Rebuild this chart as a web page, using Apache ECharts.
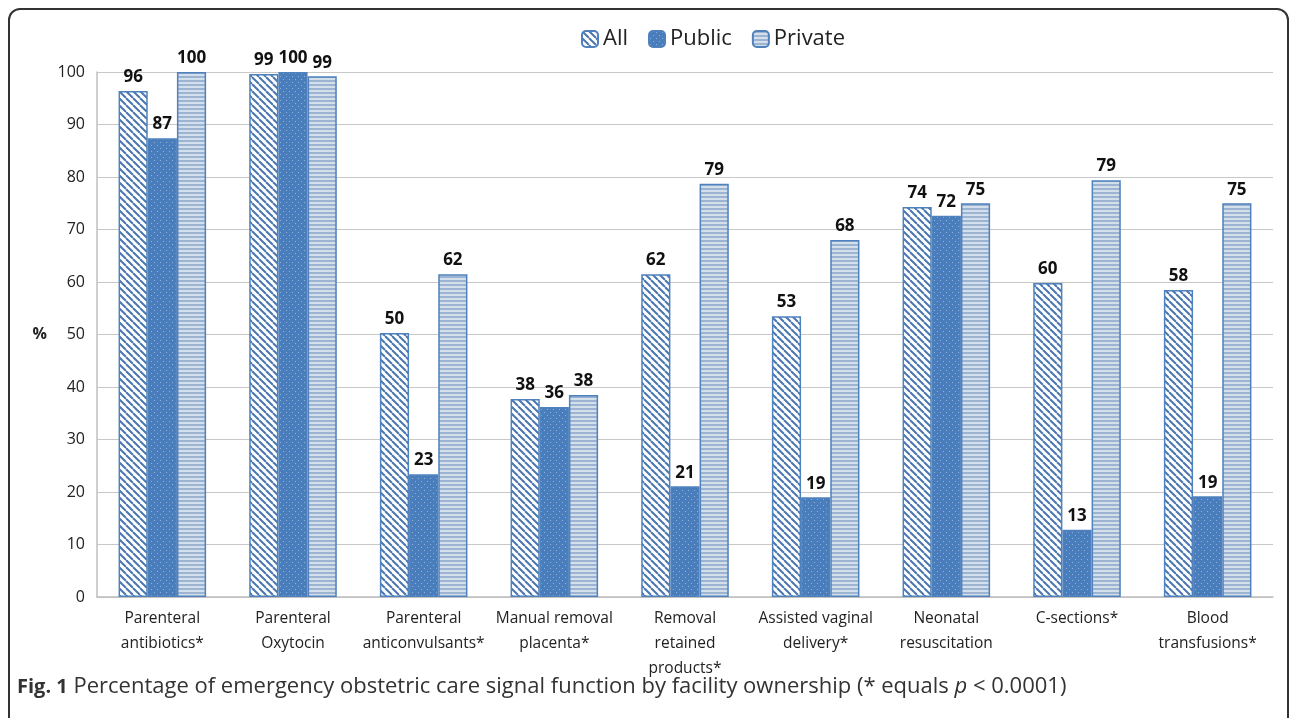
<!DOCTYPE html>
<html>
<head>
<meta charset="utf-8">
<script src="https://cdn.jsdelivr.net/npm/echarts@6/dist/echarts.min.js"></script>
<style>
    html, body { margin: 0; padding: 0; background: #fff; }
    #frame {
        position: absolute; left: 8px; top: 8px; width: 1281px; height: 760px;
        border: 2px solid #333; border-radius: 12px; box-sizing: border-box;
    }
    #chart { position: absolute; left: 0; top: 0; width: 1292px; height: 718px; }
</style>
</head>
<body>
<div id="frame"></div>
<div id="chart"></div>
<script>
// categories and values (percent)
const categories = [
    'Parenteral\nantibiotics*', 'Parenteral\nOxytocin', 'Parenteral\nanticonvulsants*',
    'Manual removal\nplacenta*', 'Removal\nretained\nproducts*', 'Assisted vaginal\ndelivery*',
    'Neonatal\nresuscitation', 'C-sections*', 'Blood\ntransfusions*'
];
const allValues     = [96.4, 99.6, 50.3, 37.7, 61.5, 53.5, 74.3, 59.8, 58.5];
const publicValues  = [87.4, 100, 23.4, 36.2, 21.1, 19.0, 72.6, 12.8, 19.2];
const privateValues = [100, 99.2, 61.5, 38.5, 78.7, 68.0, 75.0, 79.4, 75.0];
// printed labels
const allLabels     = [96, 99, 50, 38, 62, 53, 74, 60, 58];
const publicLabels  = [87, 100, 23, 36, 21, 19, 72, 13, 19];
const privateLabels = [100, 99, 62, 38, 79, 68, 75, 79, 75];

// hatch patterns
function makePattern(w, h, draw) {
    const c = document.createElement('canvas');
    c.width = w; c.height = h;
    draw(c.getContext('2d'));
    return { image: c, repeat: 'repeat' };
}

const hatchAll = makePattern(7, 7, ctx => {
    ctx.fillStyle = '#ffffff';
    ctx.fillRect(0, 0, 7, 7);
    ctx.strokeStyle = '#4a76b0';
    ctx.lineWidth = 2;
    for (const k of [-7, 0, 7]) {
        ctx.beginPath();
        ctx.moveTo(k, 0);
        ctx.lineTo(k + 7, 7);
        ctx.stroke();
    }
});

const dotsPublic = makePattern(6, 6, ctx => {
    ctx.fillStyle = '#4a7dbb';
    ctx.fillRect(0, 0, 6, 6);
    ctx.fillStyle = '#8fb0da';
    ctx.fillRect(1, 1, 1, 1);
    ctx.fillRect(4, 4, 1, 1);
});

const stripesPrivate = makePattern(4, 4, ctx => {
    ctx.fillStyle = '#d4dfec';
    ctx.fillRect(0, 0, 4, 4);
    ctx.fillStyle = '#9cb4d2';
    ctx.fillRect(0, 0, 4, 2);
});

const chart = echarts.init(document.getElementById('chart'), null, { renderer: 'canvas' });

const labelStyle = (labels) => ({
    show: true,
    position: 'top',
    distance: 5,
    fontFamily: 'Open Sans',
    fontWeight: 'bold',
    fontSize: 17,
    color: '#111',
    formatter: p => labels[p.dataIndex]
});

const barStyle = (fill) => ({
    color: fill,
    borderColor: '#4f81bd',
    borderWidth: 1.5
});

const option = {
    animation: false,
    backgroundColor: 'transparent',
    textStyle: { fontFamily: 'Open Sans' },
    title: {
        text: '{b|Fig. 1} Percentage of emergency obstetric care signal function by facility ownership (* equals {i|p} < 0.0001)',
        left: 12,
        top: 671,
        textStyle: {
            fontFamily: 'Open Sans',
            fontSize: 22,
            fontWeight: 'normal',
            color: '#333',
            rich: {
                b: { fontFamily: 'Open Sans', fontSize: 20, fontWeight: 'bold', color: '#333' },
                i: { fontFamily: 'Open Sans', fontSize: 22, fontStyle: 'italic', color: '#333' }
            }
        }
    },
    legend: {
        top: 23,
        left: 576,
        itemWidth: 16,
        itemHeight: 16,
        itemGap: 20,
        textStyle: { fontFamily: 'Open Sans', fontSize: 22, color: '#222' },
        data: ['All', 'Public', 'Private']
    },
    grid: { left: 97, right: 19, top: 72, bottom: 121, containLabel: false },
    xAxis: {
        type: 'category',
        data: categories,
        axisLine: { lineStyle: { color: '#bfbfbf', width: 1.5 } },
        axisTick: { show: false },
        axisLabel: {
            interval: 0,
            fontFamily: 'Open Sans',
            fontSize: 15.5,
            color: '#222',
            lineHeight: 25,
            margin: 9
        }
    },
    yAxis: {
        type: 'value',
        min: 0,
        max: 100,
        interval: 10,
        name: '%',
        nameLocation: 'middle',
        nameRotate: 0,
        nameGap: 50,
        nameTextStyle: { fontFamily: 'Open Sans', fontSize: 16, fontWeight: 'bold', color: '#222' },
        axisLine: { show: true, lineStyle: { color: '#bfbfbf', width: 1.5 } },
        axisTick: { show: false },
        axisLabel: { fontFamily: 'Open Sans', fontSize: 16, color: '#222', margin: 12 },
        splitLine: { lineStyle: { color: '#c8c8c8', width: 1 } }
    },
    series: [
        {
            name: 'All', type: 'bar', data: allValues,
            barGap: '0%', barCategoryGap: '33%',
            itemStyle: barStyle(hatchAll),
            label: labelStyle(allLabels)
        },
        {
            name: 'Public', type: 'bar', data: publicValues,
            barGap: '0%', barCategoryGap: '33%',
            itemStyle: barStyle(dotsPublic),
            label: labelStyle(publicLabels)
        },
        {
            name: 'Private', type: 'bar', data: privateValues,
            barGap: '0%', barCategoryGap: '33%',
            itemStyle: barStyle(stripesPrivate),
            label: labelStyle(privateLabels)
        }
    ]
};

chart.setOption(option);
</script>
</body>
</html>
